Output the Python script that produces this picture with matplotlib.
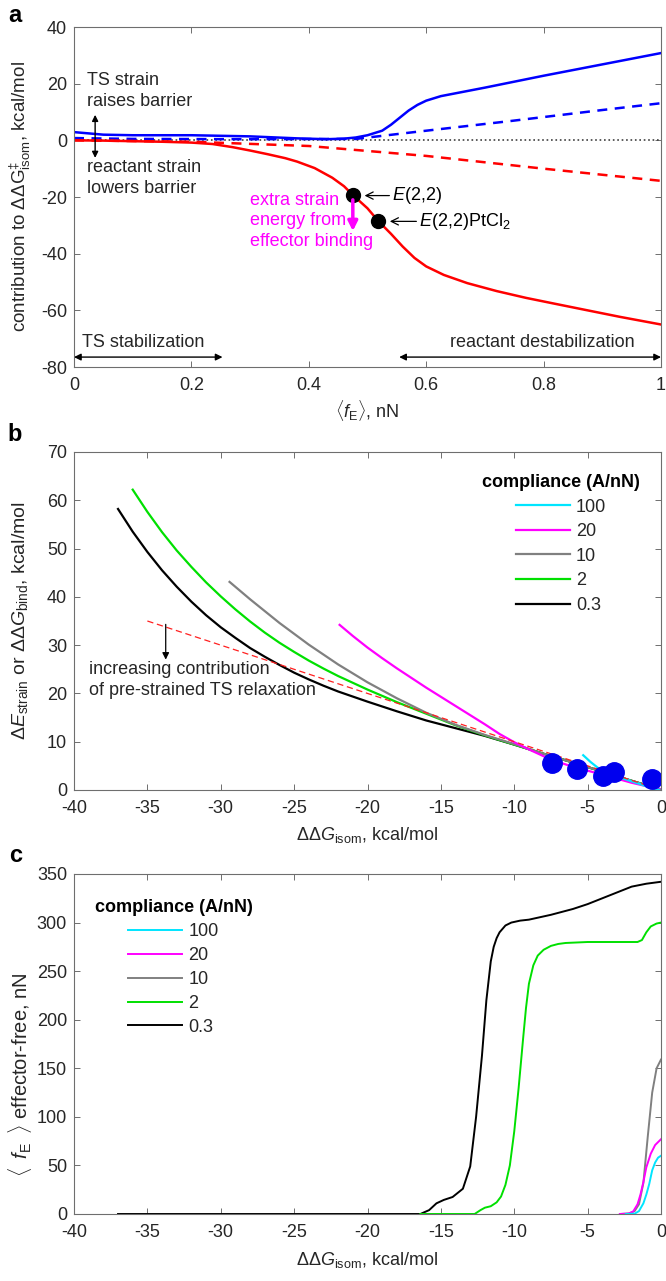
import numpy as np
import matplotlib
matplotlib.use('Agg')
from matplotlib import pyplot as plt

plt.rcParams['font.family'] = ['Liberation Sans', 'DejaVu Sans']
plt.rcParams['mathtext.fontset'] = 'custom'
plt.rcParams['mathtext.rm'] = 'Liberation Sans'
plt.rcParams['mathtext.it'] = 'Liberation Sans:italic'
plt.rcParams['mathtext.bf'] = 'Liberation Sans:bold'
plt.rcParams['axes.unicode_minus'] = False

# panel a: contributions vs mean force
a_ts_x = [0, 0.05, 0.1, 0.2, 0.3, 0.38, 0.43, 0.46, 0.48, 0.5, 0.525, 0.54, 0.555, 0.57, 0.585,
          0.6, 0.625, 0.66, 0.7, 0.8, 0.9, 1.0]
a_ts_y = [2.9, 2.0, 1.8, 1.8, 1.4, 0.7, 0.4, 0.6, 1.0, 1.8, 3.4, 5.5, 8.0, 10.5, 12.5,
          14.0, 15.6, 17.0, 18.6, 22.8, 26.8, 30.8]
a_ts_dash_x = [0, 0.1, 0.3, 0.48, 0.6, 0.743, 0.9, 1.0]
a_ts_dash_y = [0.8, 0.5, 0.4, 0.5, 3.4, 6.8, 10.7, 13.1]
a_re_x = [0, 0.05, 0.1, 0.15, 0.2, 0.236, 0.27, 0.3, 0.33, 0.36, 0.38, 0.41, 0.44, 0.46, 0.475,
          0.5, 0.518, 0.54, 0.56, 0.58, 0.6, 0.63, 0.67, 0.72, 0.77, 0.815, 0.87, 0.93, 1.0]
a_re_y = [0, -0.1, -0.3, -0.5, -0.8, -1.3, -2.4, -3.6, -4.9, -6.3, -7.5, -9.8, -13.2, -16.2, -19.3,
          -24.0, -28.4, -33.0, -37.5, -41.5, -44.5, -47.5, -50.4, -53.2, -55.6, -57.5, -59.8, -62.3, -65.0]
a_re_dash_x = [0, 0.2, 0.4, 0.6, 0.8, 1.0]
a_re_dash_y = [0, -0.5, -2.0, -5.5, -10.0, -14.3]
a_dot_x = [0.475, 0.518]
a_dot_y = [-19.3, -28.4]

# panel b: strain energy vs isomerization free energy
b_labels = ['100', '20', '10', '2', '0.3']
b_colors = ['#00e5ff', '#ff00ff', '#808080', '#00e000', '#000000']
b_x = [
    [-5.3, -4.8, -4.3, -3.5, -2.5, -1.5, -0.5, 0.0],
    [-21.9, -21, -20, -19, -18, -17, -16, -15, -14, -13, -12, -11, -10, -9, -8, -7, -6, -4, -2, 0],
    [-29.4, -28, -26, -24, -22, -20, -18, -16, -14, -12, -10, -8, -6, -4, -2, 0],
    [-36, -35, -34, -33, -32, -31, -30, -29, -28, -27, -26, -25, -24, -23, -22, -20, -18, -16,
     -14, -12, -10, -8, -6, -4, -2, 0],
    [-37, -36, -35, -34, -33, -32, -31, -30, -29, -28, -27, -26, -25, -24, -23, -22, -20, -18,
     -16, -14, -12, -10, -8, -6, -4, -2, 0],
]
b_y = [
    [7.2, 5.8, 4.6, 3.4, 2.3, 1.3, 0.2, 0.0],
    [34.2, 31.9, 29.5, 27.3, 25.2, 23.2, 21.2, 19.3, 17.4, 15.5, 13.6, 11.6, 9.9, 8.4, 7.0, 5.8, 4.8, 3.2, 1.5, 0.1],
    [43.1, 39.5, 34.6, 30.1, 26.0, 22.3, 19.0, 16.0, 13.5, 11.4, 9.5, 7.5, 5.7, 3.8, 1.9, 0.1],
    [62.2, 57.6, 53.4, 49.6, 46.2, 43.0, 40.1, 37.4, 34.9, 32.6, 30.5, 28.6, 26.8, 25.15, 23.6, 20.8,
     18.2, 15.8, 13.4, 11.3, 9.4, 7.5, 5.7, 3.8, 1.9, 0.1],
    [58.2, 53.5, 49.3, 45.5, 42.1, 39.0, 36.2, 33.7, 31.5, 29.4, 27.6, 25.9, 24.3, 22.9, 21.6, 20.4,
     18.3, 16.3, 14.4, 12.8, 11.2, 9.4, 7.5, 5.7, 3.8, 1.9, 0.1],
]
b_ref_x = [-35, 0]
b_ref_y = [35, 0]
b_dot_x = [-7.45, -5.7, -3.97, -3.18, -0.59]
b_dot_y = [5.5, 4.3, 2.9, 3.8, 2.3]

# panel c: effector-free force vs isomerization free energy
c_x = [
    [-2.4, -1.8, -1.5, -1.2, -1.0, -0.8, -0.6, -0.4, -0.2, 0],
    [-2.8, -2.2, -1.9, -1.6, -1.4, -1.2, -1.0, -0.7, -0.4, 0],
    [-2.8, -2.2, -1.8, -1.5, -1.2, -0.9, -0.6, -0.3, 0],
    [-16.4, -12.7, -12.3, -12.0, -11.6, -11.2, -10.9, -10.6, -10.3, -10.0, -9.7, -9.4, -9.2, -9.0,
     -8.7, -8.4, -8.0, -7.5, -7.0, -6.5, -5, -3, -1.6, -1.3, -1.0, -0.7, -0.3, 0],
    [-37, -16.4, -15.8, -15.3, -14.8, -14.2, -13.5, -13.0, -12.6, -12.2, -11.9, -11.6, -11.4, -11.2,
     -11.0, -10.6, -10.2, -9.6, -9, -7.5, -6, -5, -4, -3, -2, -1, 0],
]
c_y = [
    [0, 0.3, 3, 11, 20, 31, 45, 53, 58, 60],
    [0, 0.5, 2.5, 10, 20, 33, 48, 62, 71, 77],
    [0, 0.5, 3, 10, 32, 80, 125, 150, 159],
    [0, 0, 4, 6.5, 8, 12, 18, 30, 50, 85, 130, 180, 212, 237,
     256, 266, 272, 276, 278, 279, 280, 280, 280, 282, 290, 296, 299, 300],
    [0, 0, 4, 11, 14.5, 17.5, 26, 49, 100, 163, 220, 260, 275, 284,
     290, 297, 300, 302, 303, 308, 314, 319, 325, 331, 337, 340, 342],
]

W, H = 666, 1281
TXT = '#262626'
FS = 13


def style_axes(ax):
    for s in ax.spines.values():
        s.set_color('#6e6e6e')
        s.set_linewidth(0.8)
    ax.tick_params(direction='in', top=True, right=True, length=4, width=0.7,
                   color='#6e6e6e', labelcolor=TXT, labelsize=FS, pad=5)
    ax.tick_params(axis='x', pad=7)


def add_axes(fig, left, top, right, bottom):
    return fig.add_axes([left / W, 1 - bottom / H, (right - left) / W, (bottom - top) / H])


def add_legend(ax, anchor, spacing):
    handles, labels = ax.get_legend_handles_labels()
    leg = ax.legend(handles[::-1], labels[::-1], title='compliance (A/nN)', loc='upper left',
                    bbox_to_anchor=anchor, frameon=False, fontsize=FS,
                    title_fontproperties={'weight': 'bold', 'size': FS}, handlelength=3.0,
                    handletextpad=0.35, labelspacing=spacing, borderpad=0, borderaxespad=0)
    for t in leg.get_texts():
        t.set_color(TXT)


def plot_a(ax):
    ax.plot([0, 1], [0, 0], ':', color='#404040', lw=1.2)
    ax.plot(a_ts_dash_x, a_ts_dash_y, '--', color='#0000ff', lw=1.8, dashes=(4, 3))
    ax.plot(a_re_dash_x, a_re_dash_y, '--', color='#ff0000', lw=1.8, dashes=(4, 3))
    ax.plot(a_ts_x, a_ts_y, '-', color='#0000ff', lw=1.8)
    ax.plot(a_re_x, a_re_y, '-', color='#ff0000', lw=1.8)
    ax.plot(a_dot_x, a_dot_y, 'o', color='black', ms=10)
    ax.set_xlim(0, 1)
    ax.set_ylim(-80, 40)
    ax.set_xticks([0, 0.2, 0.4, 0.6, 0.8, 1], labels=['0', '0.2', '0.4', '0.6', '0.8', '1'])
    ax.set_yticks(range(-80, 41, 20))
    style_axes(ax)
    ax.set_xlabel(r'$\langle f_{\mathrm{E}}\rangle$, nN', fontsize=FS, color=TXT)
    ax.set_ylabel(r'contribution to $\Delta\Delta\mathrm{G}^{‡}_{\mathrm{isom}}$, kcal/mol', fontsize=13.5, color=TXT)
    ax.yaxis.set_label_coords(-0.07, 0.5)
    ax.xaxis.set_label_coords(0.5, -0.09)

    ax.text(0.022, 17.3, 'TS strain\nraises barrier', fontsize=FS, color=TXT, va='center', linespacing=1.3)
    ax.text(0.022, -13.4, 'reactant strain\nlowers barrier', fontsize=FS, color=TXT, va='center', linespacing=1.3)
    ax.annotate('', xy=(0.036, 9.0), xytext=(0.036, -6.2),
                arrowprops=dict(arrowstyle='<|-|>', color='black', lw=1, mutation_scale=9, shrinkA=0, shrinkB=0))
    ax.text(0.30, -28.4, 'extra strain\nenergy from\neffector binding', fontsize=FS, color='#ff00ff',
            va='center', linespacing=1.25)
    ax.annotate('', xy=(0.475, -32), xytext=(0.475, -21),
                arrowprops=dict(arrowstyle='-|>', color='#ff00ff', lw=2.5, mutation_scale=14, shrinkA=0, shrinkB=0))
    ax.annotate(r'$E$(2,2)', xy=(0.495, -19.5), xytext=(0.542, -19.5), fontsize=FS, color='black',
                va='center', ha='left',
                arrowprops=dict(arrowstyle='->', color='black', lw=0.9, shrinkA=0, shrinkB=0))
    ax.annotate(r'$E$(2,2)PtCl$_2$', xy=(0.538, -28.6), xytext=(0.588, -28.6), fontsize=FS, color='black',
                va='center', ha='left',
                arrowprops=dict(arrowstyle='->', color='black', lw=0.9, shrinkA=0, shrinkB=0))
    ax.annotate('', xy=(0.0, -76.5), xytext=(0.253, -76.5),
                arrowprops=dict(arrowstyle='<|-|>', color='black', lw=1, mutation_scale=10, shrinkA=0, shrinkB=0))
    ax.annotate('', xy=(0.554, -76.5), xytext=(1.0, -76.5),
                arrowprops=dict(arrowstyle='<|-|>', color='black', lw=1, mutation_scale=10, shrinkA=0, shrinkB=0))
    ax.text(0.014, -71.2, 'TS stabilization', fontsize=FS, color=TXT, va='center')
    ax.text(0.955, -71.2, 'reactant destabilization', fontsize=FS, color=TXT, va='center', ha='right')


def plot_b(ax):
    for xs, ys, c, lab in zip(b_x[::-1], b_y[::-1], b_colors[::-1], b_labels[::-1]):
        ax.plot(xs, ys, color=c, lw=1.6, label=lab)
    ax.plot(b_ref_x, b_ref_y, '--', color='#ff2020', lw=0.9, dashes=(5, 3))
    ax.plot(b_dot_x, b_dot_y, 'o', color='#0000ee', ms=14)
    ax.set_xlim(-40, 0)
    ax.set_ylim(0, 70)
    ax.set_xticks(range(-40, 1, 5))
    ax.set_yticks(range(0, 71, 10))
    style_axes(ax)
    ax.set_xlabel(r'$\Delta\Delta G_{\mathrm{isom}}$, kcal/mol', fontsize=FS, color=TXT)
    ax.set_ylabel(r'$\Delta E_{\mathrm{strain}}$ or $\Delta\Delta G_{\mathrm{bind}}$, kcal/mol', fontsize=14, color=TXT)
    ax.yaxis.set_label_coords(-0.075, 0.5)
    ax.xaxis.set_label_coords(0.5, -0.105)
    add_legend(ax, (0.695, 0.935), 0.42)
    ax.text(-38.95, 22.8, 'increasing contribution\nof pre-strained TS relaxation', fontsize=FS,
            color=TXT, va='center', linespacing=1.35)
    ax.annotate('', xy=(-33.75, 27.0), xytext=(-33.75, 34.3),
                arrowprops=dict(arrowstyle='-|>', color='black', lw=0.9, mutation_scale=10, shrinkA=0, shrinkB=0))


def plot_c(ax):
    for xs, ys, c, lab in zip(c_x[::-1], c_y[::-1], b_colors[::-1], b_labels[::-1]):
        ax.plot(xs, ys, color=c, lw=1.4, label=lab)
    ax.set_xlim(-40, 0)
    ax.set_ylim(0, 350)
    ax.set_xticks(range(-40, 1, 5))
    ax.set_yticks(range(0, 351, 50))
    style_axes(ax)
    ax.set_xlabel(r'$\Delta\Delta G_{\mathrm{isom}}$, kcal/mol', fontsize=FS, color=TXT)
    ax.set_ylabel(r'$\langle\;\;f_{\mathrm{E}}\;\;\rangle$ effector-free, nN', fontsize=14.5, color=TXT)
    ax.yaxis.set_label_coords(-0.068, 0.41)
    ax.xaxis.set_label_coords(0.5, -0.105)
    add_legend(ax, (0.035, 0.925), 0.38)


fig = plt.figure(figsize=(W / 100, H / 100), dpi=100)
ax_a = add_axes(fig, 74, 27, 661, 367)
ax_b = add_axes(fig, 74, 452, 661, 790)
ax_c = add_axes(fig, 74, 874, 661, 1214)
plot_a(ax_a)
plot_b(ax_b)
plot_c(ax_c)
fig.text(15 / W, 1 - 15 / H, 'a', fontsize=17, fontweight='bold', ha='center', va='center')
fig.text(15 / W, 1 - 435 / H, 'b', fontsize=17, fontweight='bold', ha='center', va='center')
fig.text(16 / W, 1 - 855 / H, 'c', fontsize=17, fontweight='bold', ha='center', va='center')
fig.savefig('out.png', dpi=100)
